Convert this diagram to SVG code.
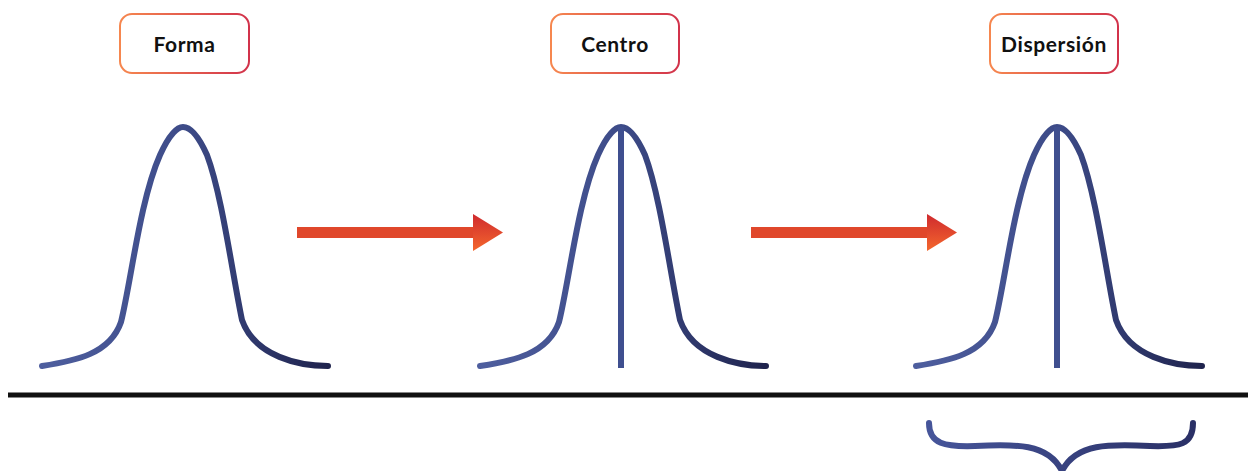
<svg xmlns="http://www.w3.org/2000/svg" width="1248" height="471" viewBox="0 0 1248 471">
<defs>
<style>
.box{fill:#fff;stroke:url(#boxGrad);stroke-width:2}
.lbl{font-family:Lato,"Liberation Sans",sans-serif;font-weight:700;font-size:21px;letter-spacing:0.6px;fill:#111;text-anchor:middle}
.curve{fill:none;stroke-width:6;stroke-linecap:round;stroke-linejoin:round}
.axis{stroke:#3f4f8f;stroke-width:6}
</style>
<linearGradient id="boxGrad" x1="0" y1="0" x2="1" y2="0">
<stop offset="0" stop-color="#f6874f"/><stop offset="1" stop-color="#d2334b"/>
</linearGradient>
<linearGradient id="cg1" gradientUnits="userSpaceOnUse" x1="42" y1="0" x2="328" y2="0">
<stop offset="0" stop-color="#4e5e9e"/><stop offset="0.5" stop-color="#3d4b88"/><stop offset="1" stop-color="#1f234d"/>
</linearGradient>
<linearGradient id="braceGrad" gradientUnits="userSpaceOnUse" x1="928" y1="0" x2="1194" y2="0">
<stop offset="0" stop-color="#46559a"/><stop offset="1" stop-color="#2a3066"/>
</linearGradient>
<linearGradient id="headGrad" x1="0" y1="0" x2="0" y2="1">
<stop offset="0" stop-color="#cf2a2e"/><stop offset="1" stop-color="#f4672d"/>
</linearGradient>
<path id="bell" class="curve" d="M42,366 C75,361 110,354 121,322 C131,282 140,200 160,155 C170,133 178,127 183,127 C190,127 198,135 207,155 C222,195 232,272 242,320 C255,357 300,366 328,366"/>
</defs>
<rect width="1248" height="471" fill="#fff"/>
<g id="forma">
<rect class="box" x="120" y="14" width="129" height="59" rx="12"/>
<text class="lbl" x="184.5" y="51.5">Forma</text>
<use href="#bell" stroke="url(#cg1)"/>
</g>
<g id="centro">
<rect class="box" x="551" y="14" width="128" height="59" rx="12"/>
<text class="lbl" x="615" y="51.5">Centro</text>
<g transform="translate(438,0)"><use href="#bell" stroke="url(#cg1)"/></g>
<line class="axis" x1="621" y1="127" x2="621" y2="368"/>
</g>
<g id="dispersion">
<rect class="box" x="990" y="14" width="128" height="59" rx="12"/>
<text class="lbl" x="1054" y="51.5">Dispersión</text>
<g transform="translate(874,0)"><use href="#bell" stroke="url(#cg1)"/></g>
<line class="axis" x1="1057" y1="127" x2="1057" y2="368"/>
<path d="M929,423 C929,444 945,447 975,446 C1015,444 1048,443 1062,471 M1062,471 C1076,443 1110,444 1150,446 C1180,447 1193,445 1193,423" fill="none" stroke="url(#braceGrad)" stroke-width="6" stroke-linecap="round"/>
</g>
<g id="baseline">
<line x1="8" y1="395" x2="1248" y2="395" stroke="#111" stroke-width="5"/>
</g>
<g id="connectors">
<rect x="297" y="227" width="177" height="11" fill="#e0472b"/>
<polygon points="473,214 503,232.5 473,251" fill="url(#headGrad)"/>
<rect x="751" y="227" width="177" height="11" fill="#e0472b"/>
<polygon points="927,214 957,232.5 927,251" fill="url(#headGrad)"/>
</g>
</svg>
